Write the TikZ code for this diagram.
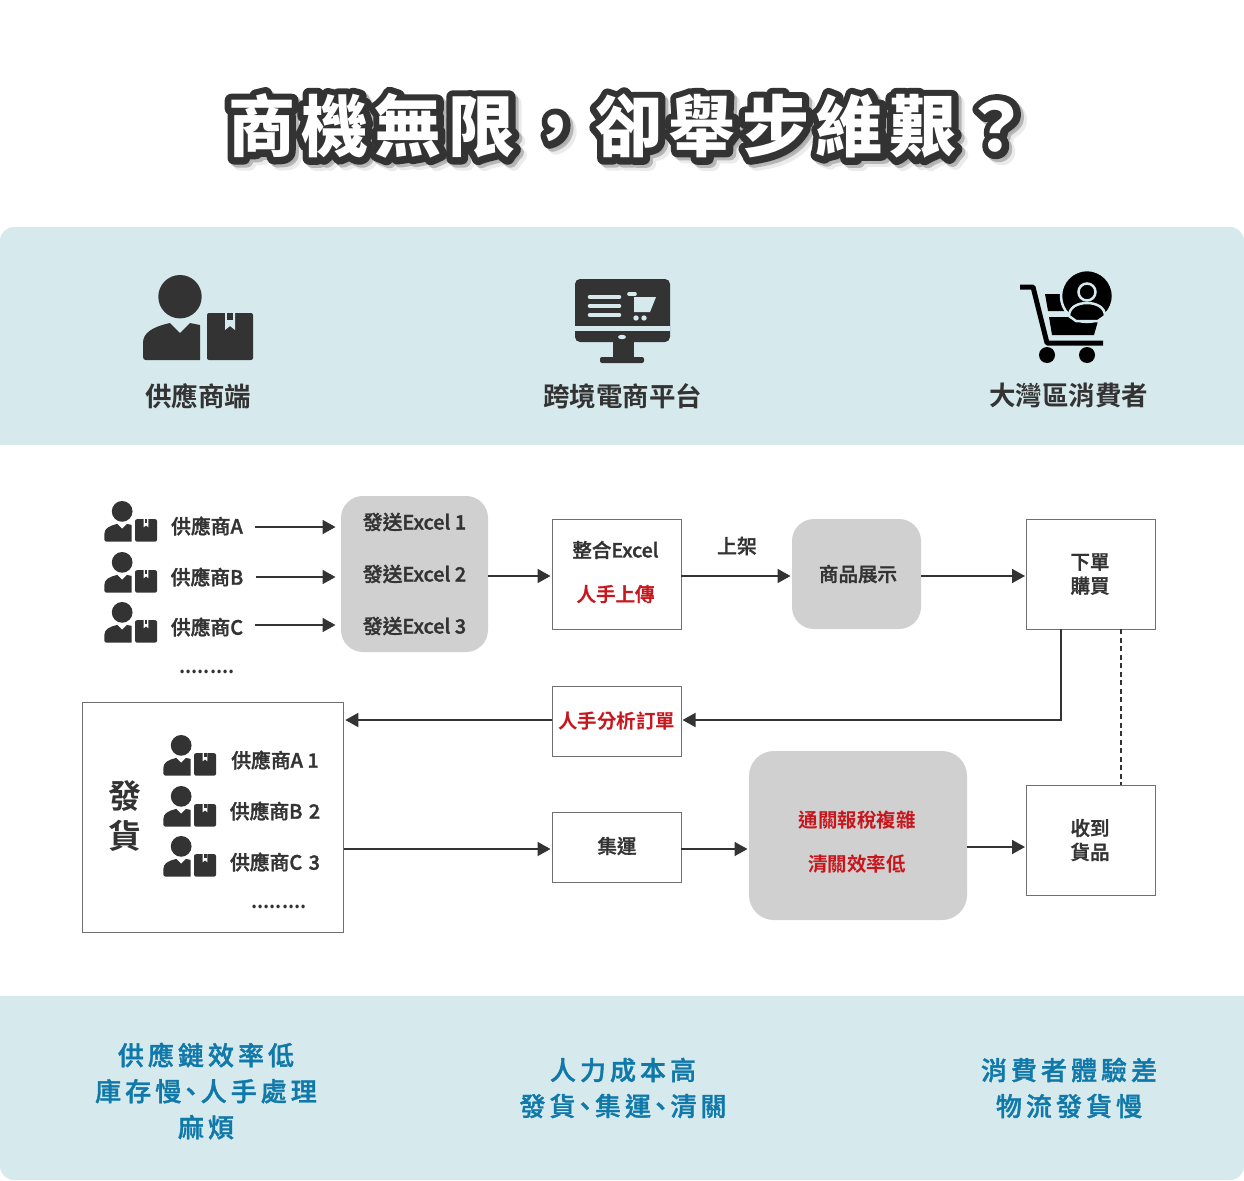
\documentclass[tikz,border=0pt]{standalone}
\usepackage{fontspec}
\usetikzlibrary{arrows.meta,calc}
\setmainfont{Noto Sans CJK TC}
\newfontfamily\cjkb{Noto Sans CJK TC Bold}
\newfontfamily\cjkm[FakeBold=1.6]{Noto Sans CJK TC Medium}
\newfontfamily\cjkf[LetterSpace=15.5,FakeBold=1.4]{Noto Sans CJK TC Medium}
\newfontfamily\titleTop[LetterSpace=9.7]{Noto Sans CJK TC Black}
\newfontfamily\titleEdge[LetterSpace=9.7,FakeBold=20]{Noto Sans CJK TC Black}
\newcommand\dun{\kern-3.5pt 、\kern-3pt}
\newcommand\roundjoin{\special{pdf:code 1 j 1 J}}
\definecolor{bandc}{HTML}{D6EAEE}
\definecolor{ink}{HTML}{333333}
\definecolor{greybox}{HTML}{D0D0D0}
\definecolor{redtxt}{HTML}{C8161D}
\definecolor{bluetxt}{HTML}{1079A9}
\colorlet{iconbg}{bandc}
\tikzset{
  x=1pt,y=-1pt,
  band/.style={fill=bandc,draw=none},
  head/.style={font=\cjkb\fontsize{26.5}{30}\selectfont,text=ink,inner sep=0pt},
  lbl/.style={font=\cjkm\fontsize{19.8}{24}\selectfont,text=ink,inner sep=0pt,align=center},
  foot/.style={font=\cjkf\fontsize{26}{36}\selectfont,text=bluetxt,inner sep=0pt,align=center},
  whitebox/.style={draw=ink!70,line width=.7pt,fill=white,inner sep=0pt,outer sep=0pt,align=center,text=ink,font=\cjkm\fontsize{19.5}{24}\selectfont},
  greyrnd/.style={fill=greybox,draw=none,rounded corners=22pt,inner sep=0pt,outer sep=0pt,align=center,text=ink,font=\cjkm\fontsize{19.5}{24}\selectfont},
  arr/.style={draw=ink,line width=1.8pt,shorten >=1.5pt,-{Triangle[length=13pt,width=14pt]}},
  pics/personbox/.style={code={
    \fill[ink] (38,21.7) circle[radius=21.7];
    \fill[ink] (1,82) -- (1,68) .. controls (1,58) and (10,52) .. (28,48) -- (38,58) -- (48,48) -- (58,50) -- (58,85) -- (4,85) .. controls (2,85) and (1,84) .. (1,82) -- cycle;
    \fill[ink,rounded corners=2pt] (65,38) rectangle (111,85);
    \fill[iconbg] (83,38) -- (83,55) -- (88,51) -- (93,55) -- (93,38) -- cycle;
    \fill[ink] (85,38) rectangle (91,45);
  }}
}
\begin{document}
\begin{tikzpicture}
\useasboundingbox (0,0) rectangle (1244,1180);
\fill[white] (0,0) rectangle (1244,1180);
% bands
\fill[band] (0,445) {[rounded corners=14pt] -- (0,227) -- (1244,227)} -- (1244,445) -- cycle;
\fill[band] (0,996) {[rounded corners=14pt] -- (0,1180) -- (1244,1180)} -- (1244,996) -- cycle;
% title
\node[inner sep=0pt,text=black,text opacity=.08,font=\titleEdge\fontsize{67}{80}\selectfont] (titleShadowB) at (635,132) {\roundjoin 商機無限，卻舉步維艱？};
\node[inner sep=0pt,text=black,text opacity=.22,font=\titleEdge\fontsize{67}{80}\selectfont] (titleShadowA) at (632,129) {\roundjoin 商機無限，卻舉步維艱？};
\node[inner sep=0pt,text=ink,font=\titleEdge\fontsize{67}{80}\selectfont] (titleEdge) at (629,126) {\roundjoin 商機無限，卻舉步維艱？};
\node[inner sep=0pt,text=white,font=\titleTop\fontsize{67}{80}\selectfont] (titleText) at (629,126) {商機無限，卻舉步維艱？};
% header icon 1
\pic at (142,275) {personbox};
\node[head] (h1) at (198,396) {供應商端};
% header icon 2 monitor
\fill[ink,rounded corners=5pt] (575,279) rectangle (670,342);
\fill[bandc] (575,326) rectangle (670,331);
\fill[ink] (613,342) rectangle (634,358);
\fill[ink,rounded corners=2pt] (600,357) rectangle (644,363);
\fill[bandc] (622,337) ellipse[x radius=4,y radius=2.2];
\draw[bandc,line width=4.6pt,line cap=round] (590,297) -- (619,297) (590,306) -- (619,306) (590,315) -- (619,315);
\draw[bandc,line width=3.6pt,line cap=round] (629,294) -- (635,294);
\fill[bandc] (634,297) -- (656,297) -- (650,312) -- (634,312) -- cycle;
\fill[bandc] (636,318) circle[radius=2.7] (644,318) circle[radius=2.7];
\node[head] (h2) at (622.5,396) {跨境電商平台};
% header icon 3 cart
\draw[black,line width=5pt,line join=round] (1020,287) -- (1033,287) -- (1047,343) -- (1103,343);
\fill[black] (1047,355) circle[radius=8] (1087,355) circle[radius=8];
\fill[black] (1045,294) -- (1060,294) -- (1068,311) -- (1048,311) -- cycle;
\fill[black] (1049,317) -- (1070,317) -- (1090,322) -- (1098,321) -- (1094,335) -- (1052,335) -- cycle;
\fill[black,draw=bandc,line width=2.5pt] (1087,296) circle[radius=26];
\fill[black,draw=bandc,line width=2.5pt] (1087,292) circle[radius=8.5];
\fill[black,draw=bandc,line width=2.5pt] (1069,316) .. controls (1069,307) and (1078,303) .. (1087,303) .. controls (1096,303) and (1105,307) .. (1105,316) -- (1098,321) -- (1076,321) -- cycle;
\node[head] (h3) at (1068.5,396) {大灣區消費者};
% white-ground icons
\colorlet{iconbg}{white}
\pic[scale=.478] at (104,501) {personbox};
\pic[scale=.478] at (104,552) {personbox};
\pic[scale=.478] at (104,602) {personbox};
\node[lbl] (supA) at (207,526) {供應商A};
\node[lbl] (supB) at (207,577) {供應商B};
\node[lbl] (supC) at (207,627) {供應商C};
\node[lbl,font=\cjkb\fontsize{19}{20}\selectfont] (dotsA) at (207,672) {.........};
% top row
\node[greyrnd,minimum width=147pt,minimum height=156pt,font=\cjkm\fontsize{19.8}{52}\selectfont] (excel) at (414.5,574) {發送Excel 1\\發送Excel 2\\發送Excel 3};
\node[whitebox,minimum width=129pt,minimum height=110pt] (merge) at (616.5,574) {};
\node[lbl,font=\cjkm\fontsize{19.5}{44}\selectfont] (mergeText) at (615.5,572) {整合Excel\\\textcolor{redtxt}{人手上傳}};
\node[greyrnd,minimum width=129pt,minimum height=110pt] (show) at (856.5,574) {\hspace{3pt}商品展示};
\node[whitebox,minimum width=129pt,minimum height=110pt] (buy) at (1091,574) {\kern-2pt 下單\\\kern-2pt 購買};
\node[lbl] (shelf) at (737,546) {上架};
% middle row
\node[whitebox,minimum width=129pt,minimum height=70pt,text=redtxt,font=\cjkb\fontsize{19.5}{24}\selectfont] (split) at (616.5,721) {人手分析訂單};
\node[whitebox,minimum width=261pt,minimum height=230pt] (ship) at (213.3,817.8) {};
\node[lbl,font=\cjkb\fontsize{33}{40}\selectfont] (shipText) at (124.5,816) {發\\貨};
\pic[scale=.478] at (163,735) {personbox};
\pic[scale=.478] at (163,786) {personbox};
\pic[scale=.478] at (163,836) {personbox};
\node[lbl] (s1) at (275,760) {供應商A 1};
\node[lbl] (s2) at (275,811) {供應商B\kern2pt{} 2};
\node[lbl] (s3) at (275,862) {供應商C\kern2pt{} 3};
\node[lbl,font=\cjkb\fontsize{19}{20}\selectfont] (dotsB) at (279,907) {.........};
\node[whitebox,minimum width=129pt,minimum height=70pt] (consol) at (616.5,847) {};
\node[lbl,font=\cjkm\fontsize{19.5}{24}\selectfont] (consolText) at (617,846) {集運};
\node[greyrnd,minimum width=218pt,minimum height=169pt,rounded corners=25pt] (customs) at (858,835.5) {};
\node[lbl,text=redtxt,font=\cjkb\fontsize{19.5}{44}\selectfont] (customsText) at (857,842) {通關報稅複雜\\清關效率低};
\node[whitebox,minimum width=129pt,minimum height=110pt] (recv) at (1091,840) {\kern-2pt 收到\\\kern-2pt 貨品};
% connectors
\draw[arr,shorten <=12pt,shorten >=5.5pt] ([yshift=-1pt]supA.east) -- ([yshift=-1pt]excel.west |- supA.east);
\draw[arr,shorten <=12pt,shorten >=5.5pt] (supB.east) -- (excel.west |- supB.east);
\draw[arr,shorten <=12pt,shorten >=5.5pt] ([yshift=2pt]supC.east) -- ([yshift=2pt]excel.west |- supC.east);
\draw[arr] ([yshift=-2pt]excel.east |- merge.west) -- ([yshift=-2pt]merge.west);
\draw[arr] ([yshift=-2pt]merge.east) -- ([yshift=-2pt]show.west);
\draw[arr] ([yshift=-2pt]show.east) -- ([yshift=-2pt]buy.west);
\coordinate (turn) at (1061,720);
\draw[arr] (turn |- buy.south) -- (turn) -- (turn -| split.east);
\draw[arr] (split.west |- turn) -- (turn -| ship.east);
\draw[draw=ink,line width=2.2pt,dash pattern=on 5pt off 3.5pt] ([xshift=30pt]buy.south) -- ([xshift=30pt]recv.north);
\draw[arr] ([yshift=-2pt]ship.east |- consol.west) -- ([yshift=-2pt]consol.west);
\draw[arr] ([yshift=-2pt]consol.east) -- ([yshift=-2pt]consol.east -| customs.west);
\draw[arr] ([yshift=-7pt]customs.east |- recv.west) -- ([yshift=-7pt]recv.west);
% footer
\node[foot] (f1) at (206,1091) {供應鏈效率低\\庫存慢\dun 人手處理\\麻煩};
\node[foot] (f2) at (623,1088) {人力成本高\\發貨\dun 集運\dun 清關};
\node[foot] (f3) at (1069,1088) {消費者體驗差\\物流發貨慢};
\end{tikzpicture}
\end{document}
